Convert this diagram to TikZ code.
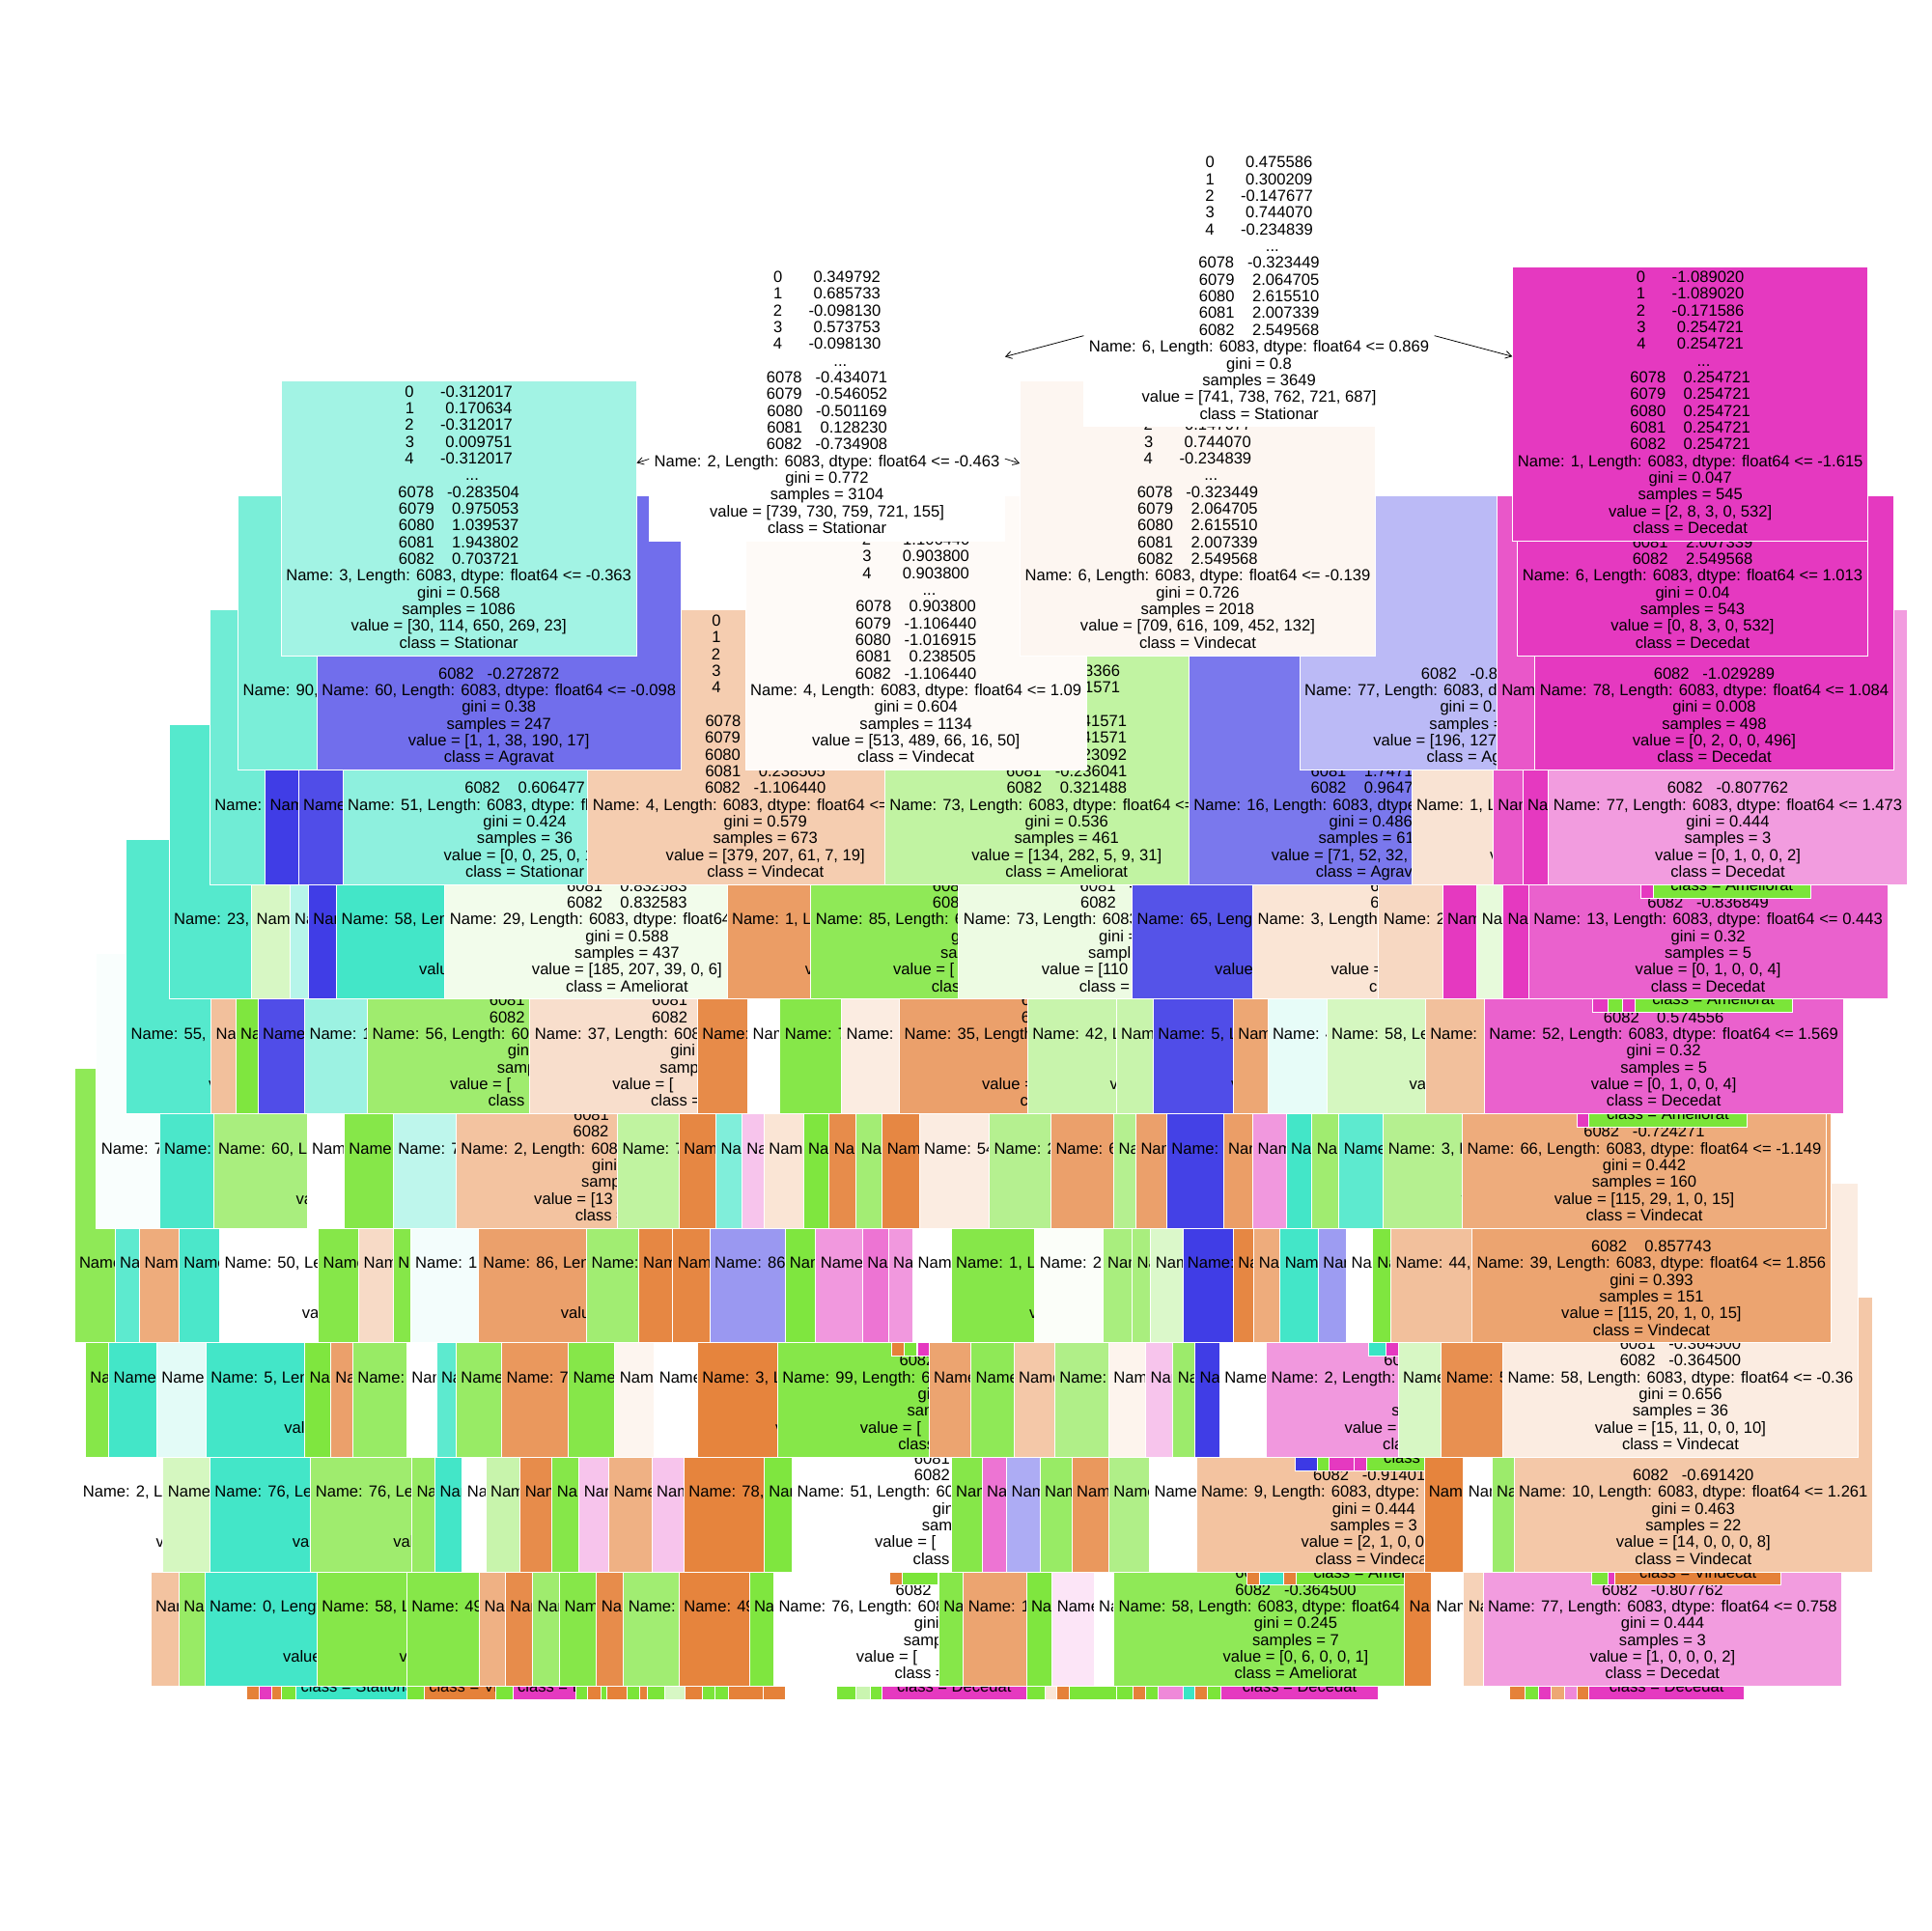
\documentclass[tikz,border=0pt]{standalone}
\usepackage{fontspec}
\setmainfont{Liberation Sans}
\usetikzlibrary{arrows.meta}
\definecolor{vind}{HTML}{E58139}
\definecolor{amel}{HTML}{7BE539}
\definecolor{stat}{HTML}{39E5C5}
\definecolor{agra}{HTML}{3C39E5}
\definecolor{dece}{HTML}{E539C0}

\newcommand\tfont{\fontsize{13}{13.6}\selectfont}
\newcommand\sgap[1]{\hspace*{#1\fontdimen2\font}}
\newcommand\srow[3]{#1\sgap{#2}#3}
\newcommand\ph[1]{\phantom{#1}}
\newcommand\uk{\ph{00}}
\newcommand\nm[2]{Name: #1, Length: 6083, dtype: float64 <= #2}
\newcommand\dotsrow{\sgap{6}...}
\newcommand\nineblank{\mbox{}\\\mbox{}\\\mbox{}\\\mbox{}\\\mbox{}\\\mbox{}\\\mbox{}\\\mbox{}\\\mbox{}\\}
\newcommand\idxrows{6081\sgap{4}\ph{0.000000}\\6082\sgap{4}\ph{0.000000}\\}
\newcommand\lowrows{gini = \ph{0.000}\\samples = \ph{000}\\value = [\ph{000, 000, 00, 0, 00]}\\class = \ph{Ameliorat}}
\newcommand\tnbody[4]{\rule{0pt}{10pt}#1#2#3\\#4\rule[-3pt]{0pt}{3pt}}
\newcommand\leaftext[1]{\rule{0pt}{10pt}\\\mbox{}\\\mbox{}\\#1\rule[-3pt]{0pt}{3pt}}

\newcommand\sixA{\srow{0}{7}{0.475586}\\\srow{1}{7}{0.300209}\\\srow{2}{6}{-0.147677}\\\srow{3}{7}{0.744070}\\\srow{4}{6}{-0.234839}\\\dotsrow\\\srow{6078}{3}{-0.323449}\\\srow{6079}{4}{2.064705}\\\srow{6080}{4}{2.615510}\\}
\newcommand\sixB{\srow{6081}{4}{2.007339}\\\srow{6082}{4}{2.549568}\\}
\newcommand\fourA{\srow{0}{7}{\ph{0.000000}}\\\srow{1}{7}{\ph{0.000000}}\\\srow{2}{6}{-1.106440}\\\srow{3}{7}{0.903800}\\\srow{4}{7}{0.903800}\\\dotsrow\\\srow{6078}{4}{0.903800}\\\srow{6079}{3}{-1.106440}\\\srow{6080}{3}{-1.016915}\\}
\newcommand\fourB{\srow{6081}{4}{0.238505}\\\srow{6082}{3}{-1.106440}\\}

\tikzset{
  tbox/.style={rectangle, draw=white, line width=0.6pt, inner xsep=4pt, inner ysep=3pt,
    align=center, anchor=north west, font=\tfont, text=black},
  leaf/.style={tbox, minimum height=59.8pt},
  arr/.style={-{Straight Barb[length=5pt,width=6pt]}, line width=0.6pt, black}
}

\newcommand\slv[5]{\node[tbox, fill=#4] (#1) at (#2,#3) {\tnbody{\nineblank}{\idxrows}{\nm{#5}{\ph{-0.000}}}{\lowrows}};}
\newcommand\slvrun[3]{\foreach \x/\cl/\nmb [count=\i] in {#3} {\slv{#1-\i}{\x}{#2}{\cl}{\nmb}}}
\newcommand\leafrun[3]{\foreach \x/\lw/\cl/\txt [count=\i] in {#3} {\node[leaf, fill=\cl, minimum width=\lw pt] (#1-\i) at (\x,#2) {\leaftext{\txt}};}}

\begin{document}
\begin{tikzpicture}[x=1pt, y=-1pt]
\fill[white] (0,0) rectangle (1568,1568);
\useasboundingbox (0,0) rectangle (1568,1568);

% depth 12 (leaves only)
\leafrun{r12}{1320}{200/10/vind/{}, 210/10/dece/{}, 220/8/vind/{}, 228/12/amel/{}, 240/90/stat/class = Stationar, 330/14/amel/{}, 344/58/vind/class = Vindecat, 402/14/amel/{}, 416/51/dece/class = Decedat, 467/10/amel/{}, 477/11/vind/{}, 488/4/amel/{}, 492/17/vind/{}, 509/10/amel/{}, 519/6/vind/{}, 525/14/amel/{}, 539/17/amel!30/{}, 556/14/vind/{}, 570/10/amel/{}, 580/11/amel/{}, 591/28/vind/{}, 619/18/vind/{}, 679/16/amel/{}, 695/11/amel!40/{}, 706/10/amel/{}, 716/117/dece/class = Decedat, 833/15/amel/{}, 848/10/vind!20/{}, 858/10/vind/{}, 868/38/amel/{}, 906/14/amel/{}, 920/10/vind/{}, 930/10/amel/{}, 940/20/dece!60/{}, 960/10/stat/{}, 970/10/vind/{}, 980/11/amel/{}, 991/128/dece/class = Decedat, 1225/13/vind/{}, 1238/11/amel/{}, 1249/10/dece/{}, 1259/11/vind!70/{}, 1270/10/dece!60/{}, 1280/10/vind/{}, 1290/126/dece/class = Decedat}

% depth 11
\slvrun{r11a}{1146}{122/vind!48/\uk, 145/amel!78/\uk, 166/stat!95/0, 257/amel!92/58, 330/amel!92/49, 389/vind!62/\uk, 410/vind!91/\uk, 432/amel!73/\uk, 454/amel!92/\uk, 484/vind!91/\uk, 506/amel!71/\uk, 551/vind!98/49, 608/amel!97/\uk, 628/white/76}
\leafrun{r11l}{1227}{722/10/vind/{}, 732/29/amel/{}}
\slvrun{r11b}{1146}{762/amel!92/\uk, 782/vind!72/1\ph{0}, 833/amel!97/\uk, 854/dece!13/\uk, 888/white/\uk}
\node[tbox, fill=amel!85] (n58b) at (904,1146) {\tnbody{\nineblank}{\srow{6081}{3}{-0.364500}\\\srow{6082}{3}{-0.364500}\\}{\nm{58}{\ph{-0.000}}}{gini = 0.245\\samples = 7\\value = [0, 6, 0, 0, 1]\\class = Ameliorat}};
\leafrun{r11m}{1227}{1012/10/vind/{}, 1022/20/stat/{}, 1042/10/vind/{}, 1052/128/amel/class = Ameliorat}
\slvrun{r11c}{1146}{1140/vind!98/\uk, 1162/white/\uk, 1188/vind!36/\uk}
\node[tbox, fill=dece!50] (n77c) at (1204,1146) {\tnbody{\nineblank}{\mbox{}\\\srow{6082}{3}{-0.807762}\\}{\nm{77}{0.758}}{gini = 0.444\\samples = 3\\value = [1, 0, 0, 0, 2]\\class = Decedat}};
\leafrun{r11n}{1227}{1292/13/amel/{}, 1305/6/dece/{}, 1311/135/vind/class = Vindecat}

% depth 10
\slvrun{r10a}{1053}{63/white/2, 132/amel!32/\uk, 170/stat!95/76, 252/amel!73/76, 334/amel!78/\uk, 353/stat!95/\uk, 375/white/\uk, 394/amel!42/\uk, 422/vind!91/\uk, 448/amel!92/\uk, 470/dece!30/\uk, 494/vind!62/\uk, 529/dece!30/\uk, 555/vind!98/78, 620/amel!97/\uk}
\node[tbox, fill=white] (n51b) at (643,1053) {\tnbody{\nineblank}{6081\sgap{4}\ph{0.000000}\\\srow{6082}{4}{0.606477}\\}{\nm{51}{\ph{-0.000}}}{\lowrows}};
\slvrun{r10b}{1053}{772/amel!92/\uk, 797/dece!70/\uk, 817/agra!42/\uk, 844/amel!78/\uk, 870/vind!82/\uk, 900/amel!60/\uk, 933/white/\uk}
\node[tbox, fill=vind!48] (n9) at (971,1053) {\tnbody{\nineblank}{\mbox{}\\\srow{6082}{3}{-0.914010}\\}{\nm{9}{\ph{-0.000}}}{gini = 0.444\\samples = 3\\value = [2, 1, 0, 0, 0]\\class = Vindecat}};
\leafrun{r10l}{1134}{1051/18/agra/{}, 1069/10/amel/{}, 1079/20/dece/{}, 1099/10/dece/{}, 1109/128/amel/class = Ameliorat}
\slvrun{r10c}{1053}{1156/vind!98/\uk, 1188/white/\uk, 1211/amel!75/\uk}
\node[tbox, fill=vind!44] (n10) at (1229,1053) {\tnbody{\nineblank}{\mbox{}\\\srow{6082}{3}{-0.691420}\\}{\nm{10}{1.261}}{gini = 0.463\\samples = 22\\value = [14, 0, 0, 0, 8]\\class = Vindecat}};

% depth 9
\slvrun{r9a}{960}{69/amel!92/\uk, 88/stat!95/\uk, 127/stat!14/\uk, 167/stat!95/5, 247/amel!97/\uk, 268/vind!75/\uk, 286/amel!78/\uk, 330/white/\uk, 354/stat!82/\uk, 370/amel!78/\uk, 407/vind!82/7\ph{0}, 461/amel!92/\uk, 499/vind!8/\uk, 531/white/\uk, 566/vind!98/3, 631/amel!92/99}
\leafrun{r9l}{1041}{724/10/vind/{}, 734/10/amel/{}, 745/9/dece/{}}
\slvrun{r9b}{960}{754/vind!72/\uk, 788/amel!85/\uk, 823/vind!44/\uk, 856/amel!60/\uk, 900/vind!9/\uk, 930/dece!30/\uk, 952/amel!75/\uk, 970/agra!98/\uk, 990/white/\uk, 1028/dece!52/2}
\leafrun{r9m}{1041}{1111/14/stat/{}, 1125/10/dece/{}}
\slvrun{r9c}{960}{1135/amel!30/\uk, 1170/vind!88/5\ph{0}}
\node[tbox, fill=vind!15] (n58a) at (1220,960) {\tnbody{\nineblank}{\srow{6081}{3}{-0.364500}\\\srow{6082}{3}{-0.364500}\\}{\nm{58}{-0.36}}{gini = 0.656\\samples = 36\\value = [15, 11, 0, 0, 10]\\class = Vindecat}};

% depth 8
\slvrun{r8a}{867}{60/amel!85/\uk, 93/stat!82/\uk, 113/vind!66/\uk, 145/stat!91/\uk, 178/white/50, 258/amel!92/\uk, 291/vind!29/\uk, 319/amel!92/\uk, 333/stat!6/1\ph{0}, 388/vind!75/86, 476/amel!71/\uk, 518/vind!95/\uk, 546/vind!95/\uk, 576/agra!52/86, 637/amel!97/\uk, 662/dece!52/\uk, 700/dece!70/\uk, 721/dece!52/\uk, 741/white/\uk, 772/amel!92/1, 840/amel!3/2\ph{0}, 895/amel!65/\uk, 919/amel!65/\uk, 934/amel!27/\uk, 960/agra!98/\uk, 1001/vind!95/\uk, 1018/vind!66/\uk, 1039/stat!95/\uk, 1070/agra!50/\uk, 1093/white/\uk, 1114/amel!97/\uk, 1129/vind!50/44}
\node[tbox, fill=vind!72] (n39) at (1195,867) {\tnbody{\nineblank}{\mbox{}\\\srow{6082}{4}{0.857743}\\}{\nm{39}{1.856}}{gini = 0.393\\samples = 151\\value = [115, 20, 1, 0, 15]\\class = Vindecat}};

% depth 7
\slvrun{r7a}{774}{78/stat!3/7\ph{0}, 129/stat!91/\uk, 173/amel!65/60, 249/white/\uk, 279/amel!92/\uk, 319/stat!33/7\ph{0}}
\node[tbox, fill=vind!48] (n2c) at (370,774) {\tnbody{\nineblank}{\srow{6081}{4}{0.128230}\\\srow{6082}{3}{-0.734908}\\}{\nm{2}{\ph{-0.000}}}{gini = \ph{0.000}\\samples = \ph{000}\\value = [13\ph{0, 000, 00, 0, 00]}\\class = \ph{Vindecat}}};
\slvrun{r7b}{774}{501/amel!48/7\ph{0}, 551/vind!95/\uk, 581/stat!64/\uk, 602/dece!30/\uk, 620/vind!21/\uk, 652/amel!97/\uk, 673/vind!91/\uk, 695/amel!70/\uk, 716/vind!95/\uk, 746/vind!15/54, 803/amel!56/2\ph{0}, 853/vind!75/6\ph{0}, 904/amel!56/\uk, 922/vind!75/\uk, 947/agra!96/\uk, 993/vind!77/\uk, 1017/dece!52/\uk, 1044/stat!95/\uk, 1065/amel!72/\uk, 1087/stat!82/\uk, 1123/amel!56/3}
\node[tbox, fill=vind!66] (n66) at (1187,774) {\tnbody{\nineblank}{\mbox{}\\\srow{6082}{3}{-0.724271}\\}{\nm{66}{-1.149}}{gini = 0.442\\samples = 160\\value = [115, 29, 1, 0, 15]\\class = Vindecat}};
\leafrun{r7l}{855}{1280/10/dece/{}, 1290/128/amel/class = Ameliorat}

% depth 6
\slvrun{r6a}{681}{102/stat!86/55, 171/vind!50/\uk, 191/amel!97/\uk, 209/agra!90/\uk, 247/stat!50/1\ph{0}, 298/amel!73/56, 430/vind!26/37, 566/vind!92/\uk, 607/white/\uk, 633/amel!92/7\ph{0}, 683/vind!15/\uk, 730/vind!75/35, 834/amel!42/42, 906/amel!42/\uk, 936/agra!90/5, 1001/vind!70/\uk, 1029/stat!12/4\ph{0}, 1077/amel!32/58, 1157/vind!50/\uk}
\node[tbox, fill=dece!80] (n52) at (1205,681) {\tnbody{\nineblank}{\mbox{}\\\srow{6082}{4}{0.574556}\\}{\nm{52}{1.569}}{gini = 0.32\\samples = 5\\value = [0, 1, 0, 0, 4]\\class = Decedat}};
\leafrun{r6l}{762}{1293/12/dece/{}, 1305/12/amel/{}, 1317/10/dece/{}, 1327/128/amel/class = Ameliorat}

% depth 5
\slvrun{r5a}{588}{137/stat!86/23, 204/amel!30/\uk, 235/stat!37/\uk, 250/agra!98/\uk, 273/stat!95/58}
\node[tbox, fill=amel!10] (n29) at (361,588) {\tnbody{\nineblank}{\srow{6081}{4}{0.832583}\\\srow{6082}{4}{0.832583}\\}{\nm{29}{\ph{-0.000}}}{gini = 0.588\\samples = 437\\value = [185, 207, 39, 0, 6]\\class = Ameliorat}};
\slvrun{r5b}{588}{590/vind!78/1, 658/amel!85/85}
\node[tbox, fill=amel!14] (n73b) at (778,588) {\tnbody{\nineblank}{\srow{6081}{3}{-0.236041}\\\srow{6082}{4}{0.321488}\\}{\nm{73}{\ph{-0.000}}}{gini = \ph{0.000}\\samples = \ph{000}\\value = [110\ph{, 000, 00, 0, 00]}\\class = \ph{Ameliorat}}};
\slvrun{r5c}{588}{919/agra!87/65, 1017/vind!21/3, 1119/vind!31/2, 1171/dece/\uk, 1199/amel!18/\uk, 1220/dece/\uk}
\node[tbox, fill=dece!80] (n13) at (1241,588) {\tnbody{\nineblank}{\mbox{}\\\srow{6082}{3}{-0.836849}\\}{\nm{13}{0.443}}{gini = 0.32\\samples = 5\\value = [0, 1, 0, 0, 4]\\class = Decedat}};
\leafrun{r5l}{669}{1332/10/dece/{}, 1342/128/amel/class = Ameliorat}

% depth 4
\slvrun{r4a}{495}{170/stat!72/\uk, 215/agra!98/\uk, 242/agra!90/\uk}
\node[tbox, fill=stat!57] (n51a) at (278,495) {\tnbody{\nineblank}{\mbox{}\\\srow{6082}{4}{0.606477}\\}{\nm{51}{\ph{-0.000}}}{gini = 0.424\\samples = 36\\value = [0, 0, 25, 0, 11]\\class = Stationar}};
\node[tbox, fill=vind!40] (n4b) at (477,495) {\tnbody{\fourA}{\fourB}{\nm{4}{\ph{-0.000}}}{gini = 0.579\\samples = 673\\value = [379, 207, 61, 7, 19]\\class = Vindecat}};
\node[tbox, fill=amel!47] (n73a) at (718,495) {\tnbody{\mbox{}\\\mbox{}\\\mbox{}\\\srow{3}{7}{\ph{0.00}3366}\\\srow{4}{7}{\ph{0.00}1571}\\\dotsrow\\\srow{6078}{4}{\ph{0.0}41571}\\\srow{6079}{4}{\ph{0.0}41571}\\\srow{6080}{4}{\ph{0.0}23092}\\}{\srow{6081}{3}{-0.236041}\\\srow{6082}{4}{0.321488}\\}{\nm{73}{\ph{-0.000}}}{gini = 0.536\\samples = 461\\value = [134, 282, 5, 9, 31]\\class = Ameliorat}};
\node[tbox, fill=agra!68] (n16) at (965,495) {\tnbody{\nineblank}{\srow{6081}{4}{1.7471\ph{00}}\\\srow{6082}{4}{0.9647\ph{00}}\\}{\nm{16}{\ph{-0.000}}}{gini = 0.486\\samples = 61\ph{0}\\value = [71, 52, 32, \ph{000, 00]}\\class = Agravat}};
\slvrun{r4b}{495}{1146/vind!22/1, 1212/dece!85/\uk, 1236/dece/\uk}
\node[tbox, fill=dece!50] (n77b) at (1257,495) {\tnbody{\nineblank}{\mbox{}\\\srow{6082}{3}{-0.807762}\\}{\nm{77}{1.473}}{gini = 0.444\\samples = 3\\value = [0, 1, 0, 0, 2]\\class = Decedat}};

% depth 3
\slv{n90}{193}{402}{stat!67}{90}
\node[tbox, fill=agra!73] (n60) at (257,402) {\tnbody{\nineblank}{\mbox{}\\\srow{6082}{3}{-0.272872}\\}{\nm{60}{-0.098}}{gini = 0.38\\samples = 247\\value = [1, 1, 38, 190, 17]\\class = Agravat}};
\node[tbox, fill=vind!4] (n4a) at (605,402) {\tnbody{\fourA}{\fourB}{\nm{4}{1.09}}{gini = 0.604\\samples = 1134\\value = [513, 489, 66, 16, 50]\\class = Vindecat}};
\node[tbox, fill=agra!35] (n77a) at (1055,402) {\tnbody{\nineblank}{\mbox{}\\\srow{6082}{3}{-0.807762}\\}{\nm{77}{\ph{-0.000}}}{gini = 0.6\ph{00}\\samples = \ph{000}\\value = [196, 127, \ph{00, 000, 00]}\\class = Agravat}};
\slv{r3s}{1215}{402}{dece!85}{\uk}
\node[tbox, fill=dece] (n78) at (1246,402) {\tnbody{\nineblank}{\mbox{}\\\srow{6082}{3}{-1.029289}\\}{\nm{78}{1.084}}{gini = 0.008\\samples = 498\\value = [0, 2, 0, 0, 496]\\class = Decedat}};

% depth 2
\node[tbox, fill=stat!47] (n3) at (228,309) {\tnbody{\srow{0}{6}{-0.312017}\\\srow{1}{7}{0.170634}\\\srow{2}{6}{-0.312017}\\\srow{3}{7}{0.009751}\\\srow{4}{6}{-0.312017}\\\dotsrow\\\srow{6078}{3}{-0.283504}\\\srow{6079}{4}{0.975053}\\\srow{6080}{4}{1.039537}\\}{\srow{6081}{4}{1.943802}\\\srow{6082}{4}{0.703721}\\}{\nm{3}{-0.363}}{gini = 0.568\\samples = 1086\\value = [30, 114, 650, 269, 23]\\class = Stationar}};
\node[tbox, fill=vind!7] (n6l) at (828,309) {\tnbody{\sixA}{\sixB}{\nm{6}{-0.139}}{gini = 0.726\\samples = 2018\\value = [709, 616, 109, 452, 132]\\class = Vindecat}};
\node[tbox, fill=dece] (n6r) at (1232,309) {\tnbody{\sixA}{\sixB}{\nm{6}{1.013}}{gini = 0.04\\samples = 543\\value = [0, 8, 3, 0, 532]\\class = Decedat}};

% depth 1
\node[tbox, fill=white] (n2) at (527,216) {\tnbody{\srow{0}{7}{0.349792}\\\srow{1}{7}{0.685733}\\\srow{2}{6}{-0.098130}\\\srow{3}{7}{0.573753}\\\srow{4}{6}{-0.098130}\\\dotsrow\\\srow{6078}{3}{-0.434071}\\\srow{6079}{3}{-0.546052}\\\srow{6080}{3}{-0.501169}\\}{\srow{6081}{4}{0.128230}\\\srow{6082}{3}{-0.734908}\\}{\nm{2}{-0.463}}{gini = 0.772\\samples = 3104\\value = [739, 730, 759, 721, 155]\\class = Stationar}};
\node[tbox, fill=dece] (n1) at (1228,216) {\tnbody{\srow{0}{6}{-1.089020}\\\srow{1}{6}{-1.089020}\\\srow{2}{6}{-0.171586}\\\srow{3}{7}{0.254721}\\\srow{4}{7}{0.254721}\\\dotsrow\\\srow{6078}{4}{0.254721}\\\srow{6079}{4}{0.254721}\\\srow{6080}{4}{0.254721}\\}{\srow{6081}{4}{0.254721}\\\srow{6082}{4}{0.254721}\\}{\nm{1}{-1.615}}{gini = 0.047\\samples = 545\\value = [2, 8, 3, 0, 532]\\class = Decedat}};

% root
\node[tbox, fill=white] (root) at (880,123) {\tnbody{\sixA}{\sixB}{\nm{6}{0.869}}{gini = 0.8\\samples = 3649\\value = [741, 738, 762, 721, 687]\\class = Stationar}};

\draw[arr] (root) -- (n2);
\draw[arr] (root) -- (n1);
\draw[arr] (n2) -- (n3);
\draw[arr] (n2) -- (n6l);
\end{tikzpicture}
\end{document}
